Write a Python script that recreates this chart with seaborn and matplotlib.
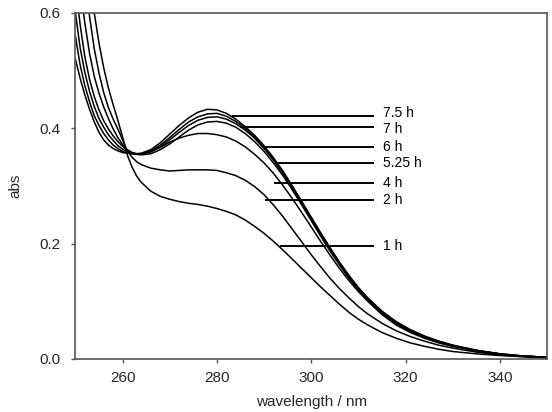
import numpy as np
import pandas as pd
import matplotlib
matplotlib.use("Agg")
import matplotlib.pyplot as plt
import seaborn as sns

# wavelength grid (nm)
wavelength = [250, 251, 252, 253, 254, 255, 256, 257, 258, 259, 260, 261, 262, 263, 264,
              266, 268, 270, 272, 274, 276, 278, 280, 282, 284, 286, 288, 290, 292, 294,
              296, 298, 300, 302, 304, 306, 308, 310, 312, 315, 318, 321, 324, 327, 330,
              335, 340, 345, 350]

abs_1h = [.900, .815, .737, .666, .600, .548, .505, .470, .441, .414, .385, .354, .333, .317, .306,
          .291, .282, .277, .273, .270, .268, .265, .261, .256, .250, .241, .230, .218, .204, .189,
          .173, .157, .141, .125, .110, .095, .081, .069, .059, .046, .036, .028, .022, .017, .013,
          .009, .006, .004, .002]
abs_2h = [.830, .750, .672, .594, .538, .496, .462, .436, .416, .399, .380, .361, .350, .342, .337,
          .331, .328, .326, .327, .328, .328, .328, .327, .323, .318, .310, .299, .285, .267, .247,
          .225, .203, .181, .160, .140, .122, .106, .091, .078, .062, .049, .039, .031, .024, .019,
          .012, .007, .004, .002]
abs_4h = [.720, .645, .583, .530, .490, .461, .437, .417, .399, .384, .372, .363, .358, .356, .356,
          .360, .367, .376, .383, .388, .391, .391, .389, .385, .378, .368, .355, .340, .322, .301,
          .278, .254, .229, .204, .180, .157, .136, .117, .100, .077, .059, .046, .036, .028, .022,
          .014, .008, .005, .003]
abs_525h = [.650, .580, .524, .485, .455, .432, .413, .399, .387, .377, .369, .362, .358, .355, .354,
            .356, .363, .373, .385, .397, .406, .411, .412, .409, .402, .391, .377, .360, .340, .318,
            .293, .267, .240, .213, .187, .163, .140, .120, .102, .079, .061, .048, .037, .029, .023,
            .014, .008, .005, .003]
abs_6h = [.600, .540, .497, .464, .438, .417, .402, .389, .379, .370, .364, .359, .357, .355, .355,
          .359, .368, .380, .393, .405, .414, .419, .420, .416, .408, .397, .383, .365, .345, .322,
          .297, .270, .243, .216, .190, .166, .143, .122, .104, .081, .063, .049, .038, .030, .023,
          .015, .009, .005, .003]
abs_7h = [.560, .510, .474, .446, .422, .405, .391, .380, .371, .365, .360, .357, .356, .355, .356,
          .361, .371, .384, .398, .411, .420, .425, .426, .421, .412, .400, .385, .367, .347, .324,
          .299, .272, .245, .218, .192, .167, .144, .123, .105, .082, .064, .050, .039, .031, .024,
          .015, .009, .005, .003]
abs_75h = [.520, .487, .458, .433, .411, .393, .380, .371, .365, .361, .358, .357, .356, .356, .357,
           .363, .375, .390, .405, .418, .428, .433, .432, .426, .416, .403, .388, .370, .349, .326,
           .300, .273, .246, .219, .193, .168, .145, .124, .106, .083, .065, .051, .040, .031, .024,
           .015, .009, .005, .003]

series_names = ["1 h", "2 h", "4 h", "5.25 h", "6 h", "7 h", "7.5 h"]
series_values = [abs_1h, abs_2h, abs_4h, abs_525h, abs_6h, abs_7h, abs_75h]

# label leader lines
label_names = ["7.5 h", "7 h", "6 h", "5.25 h", "4 h", "2 h", "1 h"]
label_y = [0.421, 0.402, 0.367, 0.340, 0.305, 0.276, 0.196]
label_text_y = [0.426, 0.399, 0.367, 0.340, 0.305, 0.276, 0.196]
label_x0 = [283.3, 284.8, 289.7, 292.6, 292.2, 290.1, 293.3]
label_x1 = 313.3

rows = []
for name, vals in zip(series_names, series_values):
    for w, v in zip(wavelength, vals):
        rows.append({"wavelength": w, "abs": v, "time": name})
df = pd.DataFrame(rows)

sns.set_style("ticks")
plt.rcParams['font.family'] = ['Liberation Sans Narrow', 'Liberation Sans', 'DejaVu Sans']

fig = plt.figure(figsize=(5.52, 4.12), dpi=100)
ax = fig.add_axes([75.4 / 552, 1 - 359 / 412, (547 - 75.4) / 552, (359 - 13) / 412])

sns.lineplot(data=df, x="wavelength", y="abs", hue="time", units="time", estimator=None,
             palette=["black"] * len(series_names), legend=False, linewidth=1.1, ax=ax)

for name, y, ty, x0 in zip(label_names, label_y, label_text_y, label_x0):
    ax.plot([x0, label_x1], [y, y], color="black", linewidth=1.4, solid_capstyle="butt")
    ax.text(label_x1 + 2.0, ty, name, fontsize=10, va="center", ha="left", color="black")

ax.set_xlim(250, 350)
ax.set_ylim(0, 0.6)
ax.set_xticks([260, 280, 300, 320, 340])
ax.set_yticks([0.0, 0.2, 0.4, 0.6])
ax.set_yticklabels(["0.0", "0.2", "0.4", "0.6"])
ax.tick_params(axis="both", labelsize=11, length=3, width=1, color="#555555")
ax.tick_params(axis="x", pad=6)
ax.tick_params(axis="y", pad=8)
for s in ax.spines.values():
    s.set_visible(True)
    s.set_color("#555555")
    s.set_linewidth(1.2)
ax.set_xlabel("wavelength / nm", fontsize=11, labelpad=7)
ax.set_ylabel("abs", fontsize=11, labelpad=12)

fig.savefig("out.png", dpi=100)
